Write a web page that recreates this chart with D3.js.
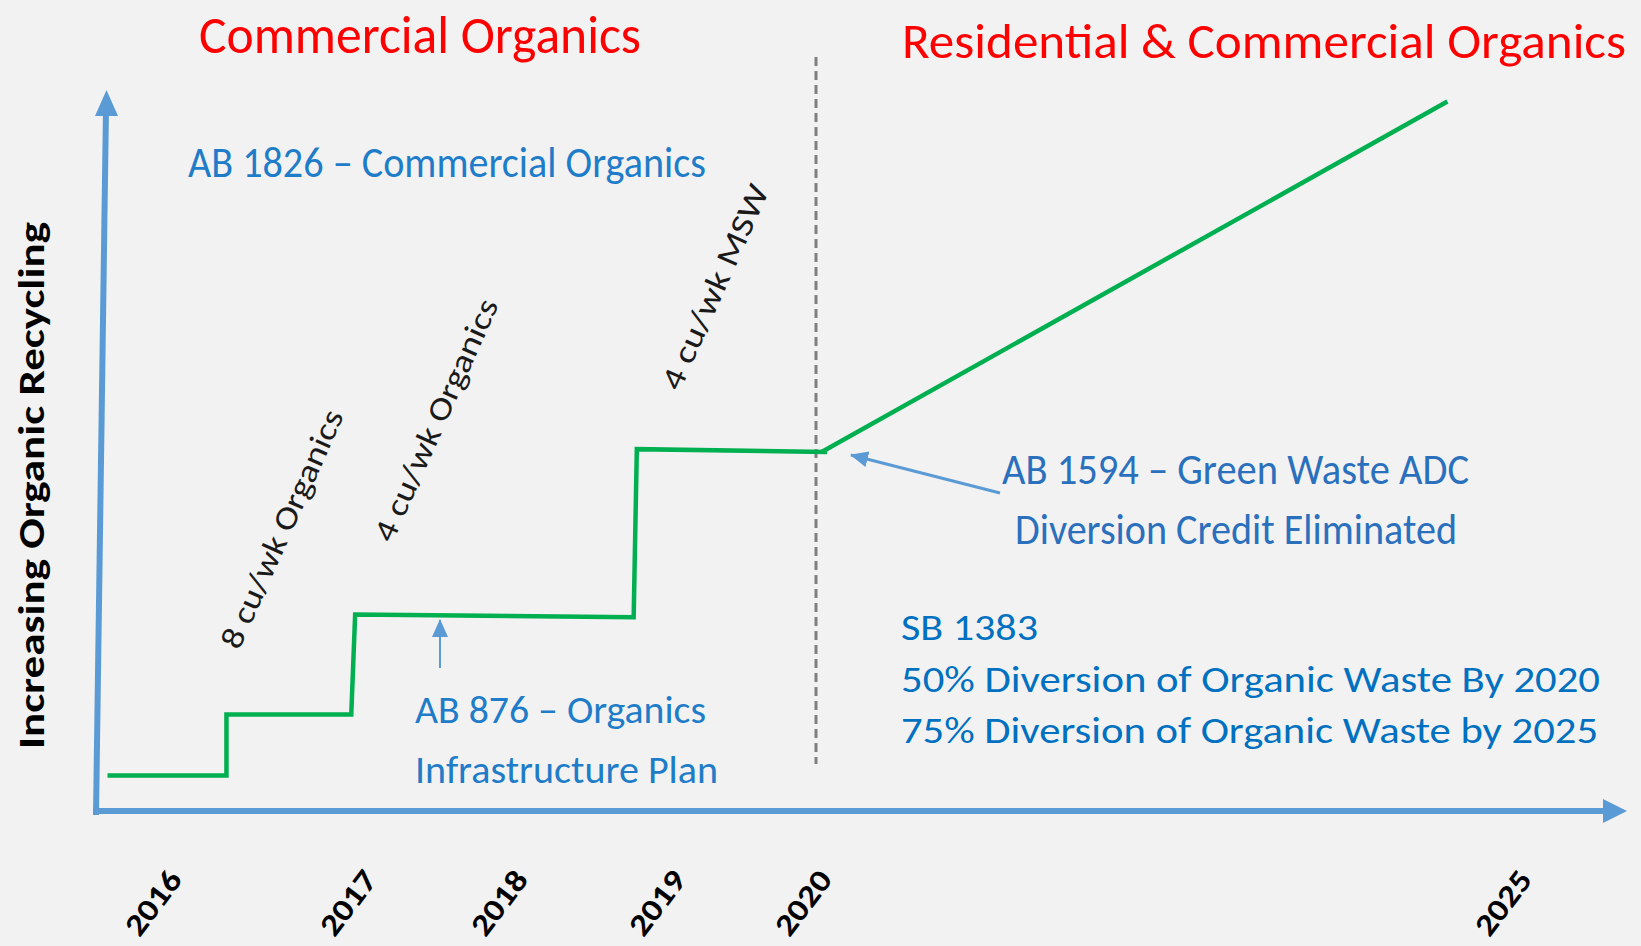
<!DOCTYPE html>
<html>
<head>
<meta charset="utf-8">
<script src="https://cdn.jsdelivr.net/npm/d3@7"></script>
<style>
  body { margin: 0; background: #f2f2f2; }
  svg { display: block; }
  text { font-family: Carlito, "Open Sans", sans-serif; }
</style>
</head>
<body>
<div id="chart"></div>
<script>
// years on the x axis and their labels
const years = [2016, 2017, 2018, 2019, 2020, 2025];
const yearLabels = ["2016", "2017", "2018", "2019", "2020", "2025"];

// the green "organic recycling" step line (level is 0-100, no units)
const stepYears  = [2015.70, 2016.31, 2016.31, 2016.95, 2016.97, 2018.77, 2018.79, 2020.08, 2020.04, 2024.51];
const stepLevels = [5.0, 5.0, 13.6, 13.6, 27.7, 27.3, 51.0, 50.6, 50.6, 100];

const cutoverYear = 2020;

// texts
const periodTitles = ["Commercial Organics", "Residential & Commercial Organics"];
const capacityNotes = ["8 cu/wk Organics", "4 cu/wk Organics", "4 cu/wk MSW"];
const ab1826 = "AB 1826 \u2013 Commercial Organics";
const ab876Lines = ["AB 876 \u2013 Organics", "Infrastructure Plan"];
const ab1594Lines = ["AB 1594 \u2013 Green Waste ADC", "Diversion Credit Eliminated"];
const sb1383Lines = ["SB 1383", "50% Diversion of Organic Waste By 2020", "75% Diversion of Organic Waste by 2025"];
const yTitle = "Increasing Organic Recycling";

const width = 1641, height = 946;
const axisBlue = "#5b9bd5";

const svg = d3.select("#chart")
    .append("svg")
    .attr("width", width)
    .attr("height", height)
    .style("background", "#f2f2f2");

// piecewise x scale, the year ticks are not evenly spaced in the picture
const x = d3.scaleLinear()
    .domain(years)
    .range([166, 361, 512, 670, 816, 1516]);

const y = d3.scaleLinear()
    .domain([0, 100])
    .range([811, 101.5]);

// arrow heads for the annotations
svg.append("defs").append("marker")
    .attr("id", "head")
    .attr("markerUnits", "userSpaceOnUse")
    .attr("viewBox", "0 0 18 16")
    .attr("markerWidth", 18)
    .attr("markerHeight", 16)
    .attr("refX", 17)
    .attr("refY", 8)
    .attr("orient", "auto")
    .append("path")
    .attr("d", "M0,0 L18,8 L0,16 Z")
    .attr("fill", axisBlue);

// axis arrows
svg.append("line")
    .attr("x1", 96).attr("y1", 815)
    .attr("x2", 106).attr("y2", 108)
    .attr("stroke", axisBlue).attr("stroke-width", 6);
svg.append("path")
    .attr("d", "M106.5,90 L95,116 L118,116 Z")
    .attr("fill", axisBlue);

svg.append("line")
    .attr("x1", 93).attr("y1", 811)
    .attr("x2", 1606).attr("y2", 811)
    .attr("stroke", axisBlue).attr("stroke-width", 6);
svg.append("path")
    .attr("d", "M1627,811 L1603,799 L1603,823 Z")
    .attr("fill", axisBlue);

// year labels
const xAxis = d3.axisBottom(x)
    .tickValues(years)
    .tickFormat((d, i) => yearLabels[i])
    .tickSize(0);

const gx = svg.append("g")
    .attr("transform", "translate(0,811)")
    .call(xAxis);
gx.select(".domain").remove();
gx.selectAll(".tick text")
    .attr("x", -73)
    .attr("y", 0)
    .attr("dy", null)
    .attr("text-anchor", "start")
    .attr("textLength", 73)
    .attr("lengthAdjust", "spacingAndGlyphs")
    .attr("transform", "translate(17,69) rotate(-53)")
    .attr("fill", "#000")
    .style("font-size", "31px")
    .style("font-weight", "bold");

// dashed cut-over line
svg.append("line")
    .attr("x1", x(cutoverYear)).attr("x2", x(cutoverYear))
    .attr("y1", 57).attr("y2", 764)
    .attr("stroke", "#7f7f7f")
    .attr("stroke-width", 3)
    .attr("stroke-dasharray", "9,5");

// step line
const line = d3.line()
    .x(d => x(d[0]))
    .y(d => y(d[1]));

svg.append("path")
    .datum(d3.zip(stepYears, stepLevels))
    .attr("d", line)
    .attr("fill", "none")
    .attr("stroke", "#00b050")
    .attr("stroke-width", 4.5)
    .attr("stroke-linejoin", "miter");

// helper for flat text squeezed to the width seen in the picture
function label(txt, x0, y0, size, len, color, weight) {
    return svg.append("text")
        .attr("x", x0)
        .attr("y", y0)
        .attr("textLength", len)
        .attr("lengthAdjust", "spacingAndGlyphs")
        .attr("fill", color)
        .style("font-size", size + "px")
        .style("font-weight", weight || "normal")
        .text(txt);
}

// titles
label(periodTitles[0], 199, 53, 54, 442, "#ff0000");
label(periodTitles[1], 902, 58, 50, 724, "#ff0000");

// y title
svg.append("text")
    .attr("transform", "translate(44,485.5) rotate(-90)")
    .attr("x", -263.5)
    .attr("y", 0)
    .attr("textLength", 527)
    .attr("lengthAdjust", "spacingAndGlyphs")
    .attr("fill", "#000")
    .style("font-size", "37px")
    .style("font-weight", "bold")
    .text(yTitle);

// rotated capacity notes
const noteCenters = [[282, 529], [436, 420], [715, 287]];
const noteLengths = [258, 262, 221];
svg.selectAll(".note")
    .data(capacityNotes)
    .join("text")
    .attr("class", "note")
    .attr("transform", (d, i) => `translate(${noteCenters[i][0]},${noteCenters[i][1]}) rotate(-66)`)
    .attr("x", (d, i) => -noteLengths[i] / 2)
    .attr("y", 0)
    .attr("dominant-baseline", "central")
    .attr("textLength", (d, i) => noteLengths[i])
    .attr("lengthAdjust", "spacingAndGlyphs")
    .attr("fill", "#1a1a1a")
    .style("font-size", "32px")
    .text(d => d);

// AB 1826
label(ab1826, 188, 177, 43, 518, "#1f7cc8");

// AB 876 with arrow up to the line
label(ab876Lines[0], 415, 723, 38, 291, "#1f7cc8");
label(ab876Lines[1], 415, 783, 38, 303, "#1f7cc8");
svg.append("line")
    .attr("x1", 440).attr("y1", 668)
    .attr("x2", 440).attr("y2", 620)
    .attr("stroke", axisBlue).attr("stroke-width", 2)
    .attr("marker-end", "url(#head)");

// AB 1594 with arrow to the cut-over
label(ab1594Lines[0], 1002, 484, 44, 467, "#2a70bd");
label(ab1594Lines[1], 1015, 544, 44, 442, "#2a70bd");
svg.append("line")
    .attr("x1", 1000).attr("y1", 493)
    .attr("x2", 851).attr("y2", 455)
    .attr("stroke", axisBlue).attr("stroke-width", 3)
    .attr("marker-end", "url(#head)");

// SB 1383
const sbBaselines = [640, 692, 743];
const sbLengths = [137, 699, 697];
sb1383Lines.forEach((t, i) => label(t, 901, sbBaselines[i], 37, sbLengths[i], "#0070c0"));
</script>
</body>
</html>
